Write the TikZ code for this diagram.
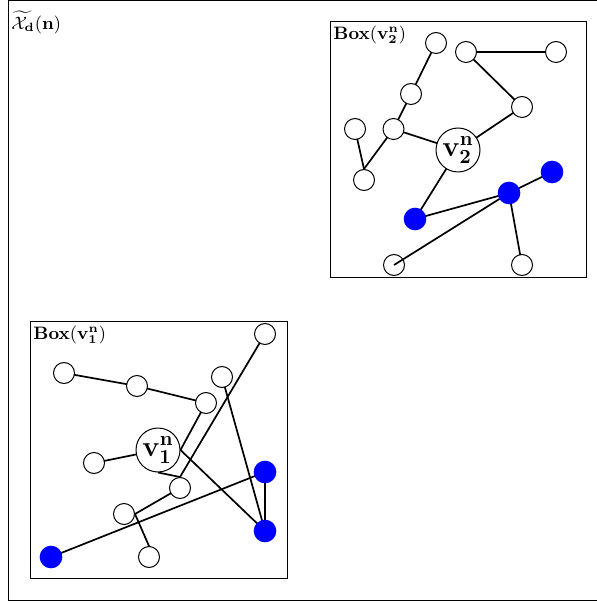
\documentclass[tikz,border=0pt]{standalone}
\usepackage{amsmath,amssymb}
\pgfdeclarelayer{bg}
\pgfsetlayers{bg,main}
\begin{document}
\begin{tikzpicture}[x=0.5pt,y=-0.5pt,
  vtx/.style={circle,draw,fill=white,line width=0.5pt,minimum size=10.5pt,inner sep=0pt},
  bvtx/.style={circle,draw=blue,fill=blue,line width=0.5pt,minimum size=10.8pt,inner sep=0pt},
  cvtx/.style={circle,draw,fill=white,line width=0.5pt,minimum size=22pt,inner sep=0pt,font=\Large},
  edge/.style={line width=0.85pt},
  frame/.style={line width=0.5pt},
  lab/.style={anchor=north west,inner sep=0pt,font=\small}]
\useasboundingbox (0,0) rectangle (597,603);
% frames
\draw[frame] (8,0.6) -- (610,0.6);
\draw[frame] (8,0.6) -- (8,600) -- (610,600);
\draw[frame] (330,22) rectangle (586,278);
\draw[frame] (30,322) rectangle (287,578);
% labels
\node[lab] (title) at (11,11) {$\widetilde{\mathcal{X}_{\mathbf{d}}}(\mathbf{n})$};
\node[lab] (lab2) at (333,26) {$\mathbf{Box(v^{n}_{2})}$};
\node[lab] (lab1) at (33,326) {$\mathbf{Box(v^{n}_{1})}$};
% box 2 nodes
\node[vtx] (A) at (436,43) {};
\node[vtx] (B) at (466,52) {};
\node[vtx] (C) at (556,52) {};
\node[vtx] (D) at (411,94) {};
\node[vtx] (E) at (522,107) {};
\node[vtx] (F) at (355,129) {};
\node[vtx] (G) at (393.5,129) {};
\node[cvtx] (V2) at (458,150) {$\mathbf{v}^{\mathbf{n}}_{\mathbf{2}}$};
\node[vtx] (H) at (364,180) {};
\node[bvtx] (I) at (552,172) {};
\node[bvtx] (J) at (509,193) {};
\node[bvtx] (K) at (415,219) {};
\node[vtx] (L) at (394,265) {};
\node[vtx] (M) at (522,265) {};
% box 1 nodes
\node[vtx] (a) at (64,373) {};
\node[vtx] (b) at (137,386) {};
\node[vtx] (c) at (206,403) {};
\node[vtx] (d) at (222,377) {};
\node[vtx] (e) at (265,334) {};
\node[cvtx] (V1) at (158,450) {$\mathbf{v}^{\mathbf{n}}_{\mathbf{1}}$};
\node[vtx] (f) at (94,463) {};
\node[vtx] (g) at (180,488) {};
\node[vtx] (h) at (124,514) {};
\node[vtx] (i) at (149,557) {};
\node[bvtx] (P) at (265,472) {};
\node[bvtx] (Q) at (265,531) {};
\node[bvtx] (R) at (51,557) {};
\begin{pgfonlayer}{bg}
% box 2 edges
\draw[edge] (A.center) -- (D.center);
\draw[edge] (D.center) -- (G.center);
\draw[edge] (B.center) -- (C.center);
\draw[edge] (B.center) -- (E.center);
\draw[edge] (E.center) -- (V2.center);
\draw[edge] (G.center) -- (V2.center);
\draw[edge] (G.center) -- (H.north);
\draw[edge] (F.center) -- (H.north);
\draw[edge] (V2.center) -- (K.center);
\draw[edge] (K.center) -- (J.center);
\draw[edge] (J.center) -- (I.center);
\draw[edge] (J.center) -- (M.center);
% box 1 edges
\draw[edge] (a.center) -- (b.center);
\draw[edge] (b.center) -- (c.center);
\draw[edge] (c.center) -- (V1.east);
\draw[edge] (e.center) -- (g.north);
\draw[edge] (V1.south) -- (g.north);
\draw[edge] (V1.east) -- (Q.center);
\draw[edge] (d.center) -- (Q.center);
\draw[edge] (P.center) -- (Q.center);
\draw[edge] (R.center) -- (P.center);
\draw[edge] (f.center) -- (V1.center);
\draw[edge] (h.east) -- (g.center);
\draw[edge] (h.east) -- (i.north);
\end{pgfonlayer}
\draw[edge] (J) -- (L.center);
\end{tikzpicture}
\end{document}
